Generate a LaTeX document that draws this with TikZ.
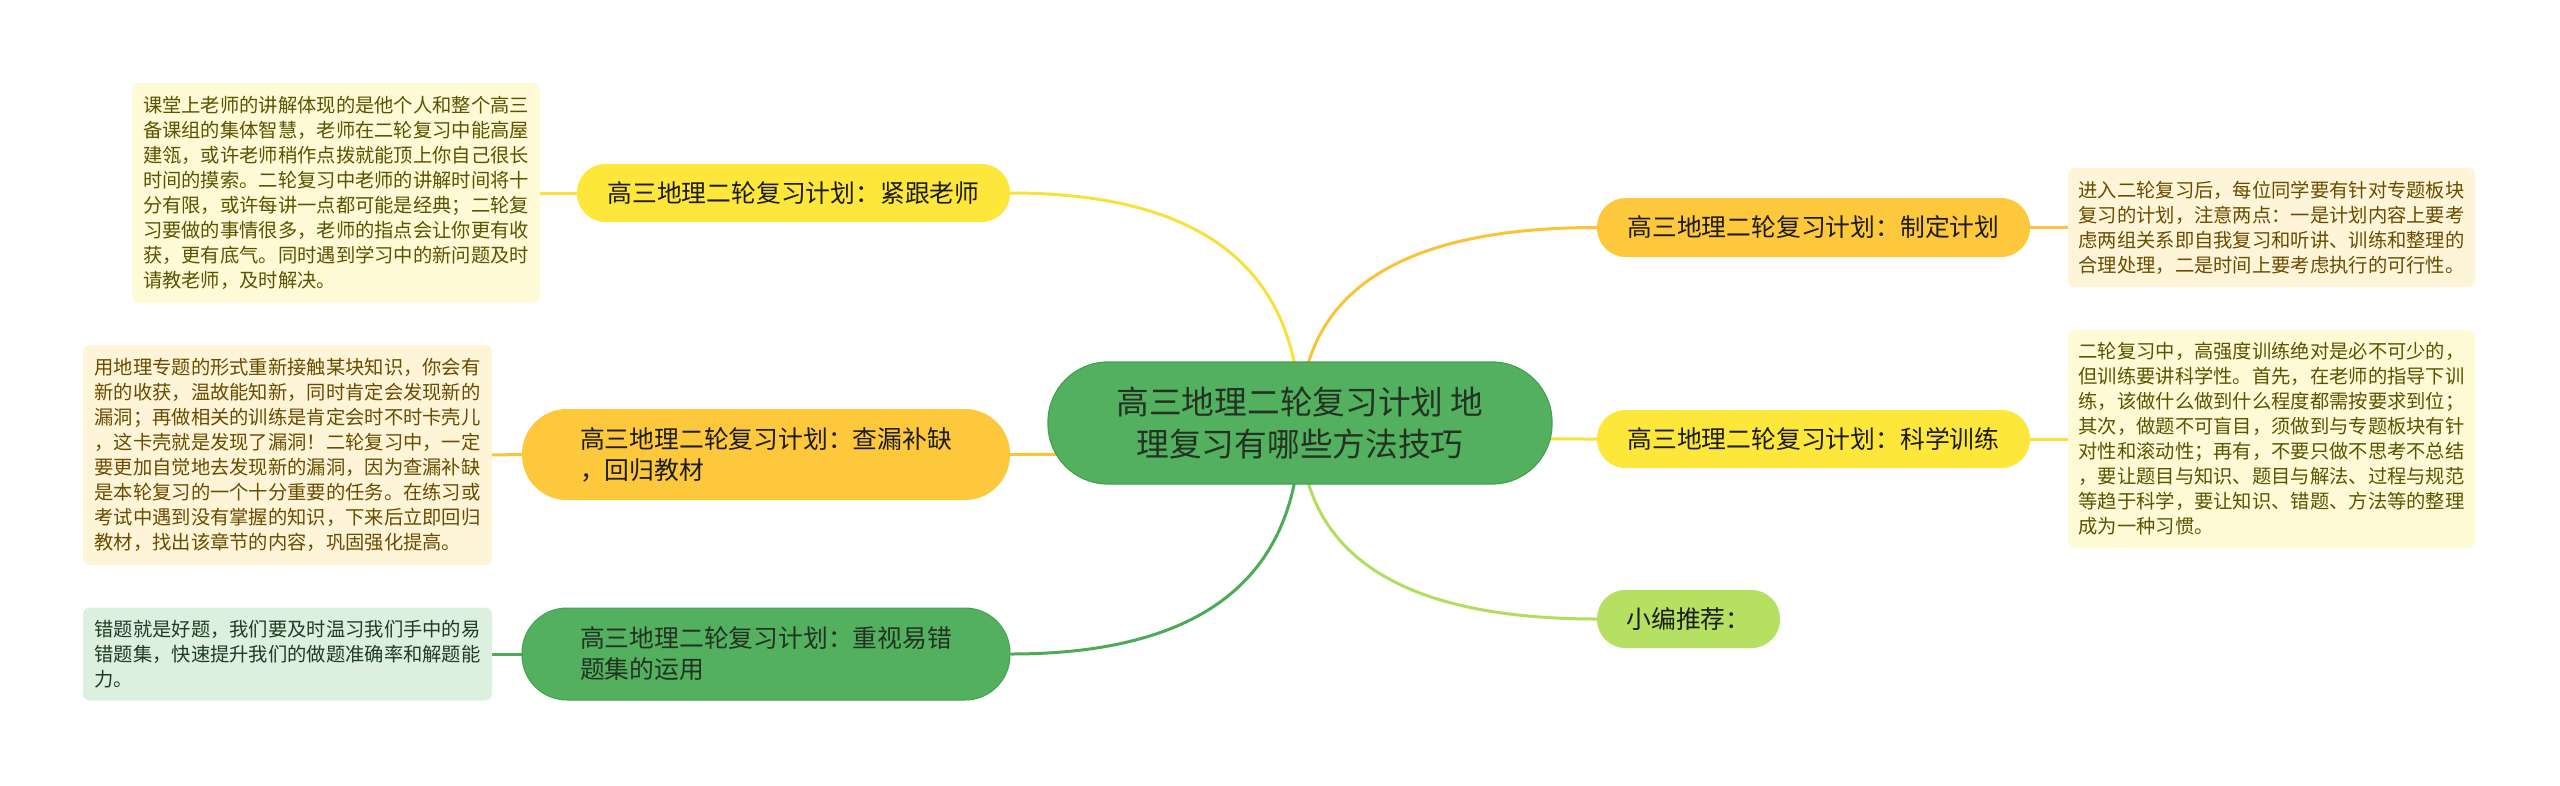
\documentclass[tikz,border=0pt]{standalone}
\usepackage{fontspec}
\setmainfont{Noto Sans CJK SC}
\usetikzlibrary{calc}
\pgfdeclarelayer{back}
\pgfdeclarelayer{bg}
\pgfsetlayers{back,bg,main}
\definecolor{cgreen}{HTML}{52B05E}
\definecolor{cgreenline}{HTML}{4DAA57}
\definecolor{cgreenedge}{HTML}{43A14F}
\definecolor{cyellow}{HTML}{FDE73B}
\definecolor{cyellowline}{HTML}{F7E13A}
\definecolor{corange}{HTML}{FDC83C}
\definecolor{corangeline}{HTML}{F9C33A}
\definecolor{clight}{HTML}{B5E061}
\definecolor{clightline}{HTML}{B2DE5F}
\definecolor{lyellow}{HTML}{FEFAD6}
\definecolor{lorange}{HTML}{FEF4D8}
\definecolor{lgreen}{HTML}{DDEFDF}
\definecolor{tyellow}{HTML}{5C5300}
\definecolor{torange}{HTML}{6A4C00}
\definecolor{tgreen}{HTML}{1F3D22}
\definecolor{tdark}{HTML}{1C1C1C}
\definecolor{tcenter}{HTML}{243224}
\tikzset{
  leafbox/.style={rounded corners=7pt, inner sep=0pt, align=left, font=\fontsize{19.3}{25}\selectfont},
  branchbox/.style={inner sep=0pt, align=left, font=\fontsize{24.8}{31}\selectfont},
  link/.style={line width=3pt},
}
\begin{document}
\begin{tikzpicture}[x=1pt,y=-1pt]
\begin{pgfonlayer}{back}
\useasboundingbox[fill=white] (0,0) rectangle (2560,785);
\end{pgfonlayer}

% center
\node[fill=cgreen, draw=cgreenedge, line width=1.2pt, rounded corners=60pt, minimum width=504pt, minimum height=122pt, inner sep=0pt, align=center, text=tcenter, font=\fontsize{32.7}{42}\selectfont] (c) at (1300,423) {高三地理二轮复习计划 地\\理复习有哪些方法技巧};

% branches
\node[branchbox, fill=cyellow, rounded corners=28.5pt, minimum width=433pt, minimum height=58pt, text=tdark] (b1) at (793.5,193) {高三地理二轮复习计划：紧跟老师};
\node[branchbox, fill=corange, rounded corners=45pt, minimum width=488pt, minimum height=91pt, text=tdark] (b2) at (766,454.5) {高三地理二轮复习计划：查漏补缺\\，回归教材};
\node[branchbox, fill=cgreen, draw=cgreenedge, line width=1pt, rounded corners=45pt, minimum width=488pt, minimum height=92pt, text=tcenter] (b3) at (766,654) {高三地理二轮复习计划：重视易错\\题集的运用};
\node[branchbox, fill=corange, rounded corners=29pt, minimum width=433pt, minimum height=59pt, text=tdark] (b4) at (1813.5,227.5) {高三地理二轮复习计划：制定计划};
\node[branchbox, fill=cyellow, rounded corners=28.5pt, minimum width=433pt, minimum height=58pt, text=tdark] (b5) at (1813.5,439) {高三地理二轮复习计划：科学训练};
\node[branchbox, fill=clight, rounded corners=28.5pt, minimum width=183pt, minimum height=58pt, text=tdark] (b6) at (1688.5,619) {小编推荐：};

% leaves
\node[leafbox, fill=lyellow, text=tyellow, minimum width=408pt, minimum height=220pt] (l1) at (336,193) {课堂上老师的讲解体现的是他个人和整个高三\\备课组的集体智慧，老师在二轮复习中能高屋\\建瓴，或许老师稍作点拨就能顶上你自己很长\\时间的摸索。二轮复习中老师的讲解时间将十\\分有限，或许每讲一点都可能是经典；二轮复\\习要做的事情很多，老师的指点会让你更有收\\获，更有底气。同时遇到学习中的新问题及时\\请教老师，及时解决。};
\node[leafbox, fill=lorange, text=torange, minimum width=409pt, minimum height=220pt] (l2) at (287.5,455) {用地理专题的形式重新接触某块知识，你会有\\新的收获，温故能知新，同时肯定会发现新的\\漏洞；再做相关的训练是肯定会时不时卡壳儿\\，这卡壳就是发现了漏洞！二轮复习中，一定\\要更加自觉地去发现新的漏洞，因为查漏补缺\\是本轮复习的一个十分重要的任务。在练习或\\考试中遇到没有掌握的知识，下来后立即回归\\教材，找出该章节的内容，巩固强化提高。};
\node[leafbox, fill=lgreen, text=tgreen, minimum width=409pt, minimum height=93pt] (l3) at (287.5,654) {错题就是好题，我们要及时温习我们手中的易\\错题集，快速提升我们的做题准确率和解题能\\力。};
\node[leafbox, fill=lorange, text=torange, minimum width=407pt, minimum height=119pt] (l4) at (2271.5,227.5) {进入二轮复习后，每位同学要有针对专题板块\\复习的计划，注意两点：一是计划内容上要考\\虑两组关系即自我复习和听讲、训练和整理的\\合理处理，二是时间上要考虑执行的可行性。};
\node[leafbox, fill=lyellow, text=tyellow, minimum width=407pt, minimum height=218pt] (l5) at (2271.5,439) {二轮复习中，高强度训练绝对是必不可少的，\\但训练要讲科学性。首先，在老师的指导下训\\练，该做什么做到什么程度都需按要求到位；\\其次，做题不可盲目，须做到与专题板块有针\\对性和滚动性；再有，不要只做不思考不总结\\，要让题目与知识、题目与解法、过程与规范\\等趋于科学，要让知识、错题、方法等的整理\\成为一种习惯。};

\begin{pgfonlayer}{bg}
  \coordinate (k1) at (c.center |- b1.east);
  \coordinate (k2) at (c.center |- b2.east);
  \coordinate (k3) at (c.center |- b3.east);
  \coordinate (k4) at (c.center |- b4.west);
  \coordinate (k5) at (c.center |- b5.west);
  \coordinate (k6) at (c.center |- b6.west);
  \draw[link, cyellowline] (c.center) .. controls ($(c.center)!0.667!(k1)$) and ($(b1.east)!0.667!(k1)$) .. (b1.east);
  \draw[link, corangeline] (c.center) .. controls ($(c.center)!0.667!(k2)$) and ($(b2.east)!0.667!(k2)$) .. (b2.east);
  \draw[link, cgreenline] (c.center) .. controls ($(c.center)!0.667!(k3)$) and ($(b3.east)!0.667!(k3)$) .. (b3.east);
  \draw[link, corangeline] (c.center) .. controls ($(c.center)!0.667!(k4)$) and ($(b4.west)!0.667!(k4)$) .. (b4.west);
  \draw[link, cyellowline] (c.center) .. controls ($(c.center)!0.667!(k5)$) and ($(b5.west)!0.667!(k5)$) .. (b5.west);
  \draw[link, clightline] (c.center) .. controls ($(c.center)!0.667!(k6)$) and ($(b6.west)!0.667!(k6)$) .. (b6.west);
  \draw[link, cyellowline] (b1.west) -- (l1.east);
  \draw[link, corangeline] (b2.west) -- (l2.east);
  \draw[link, cgreenline] (b3.west) -- (l3.east);
  \draw[link, corangeline] (b4.east) -- (l4.west);
  \draw[link, cyellowline] (b5.east) -- (l5.west);
\end{pgfonlayer}
\end{tikzpicture}
\end{document}
